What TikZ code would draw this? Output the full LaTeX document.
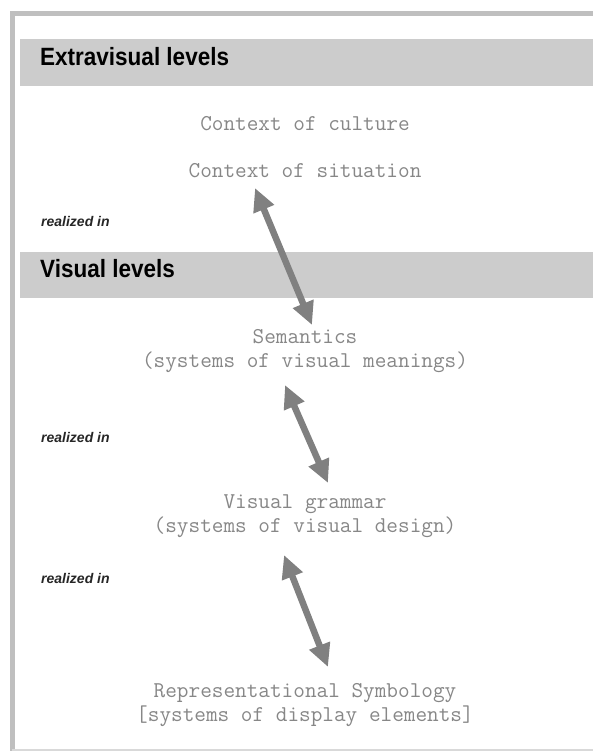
\documentclass[tikz,border=0pt]{standalone}
\usepackage{fontspec}
\usetikzlibrary{arrows.meta}
\newfontfamily\headfont[FakeStretch=0.9]{Liberation Sans}
\newfontfamily\notefont{Liberation Sans}
\definecolor{bandgray}{gray}{0.8}
\definecolor{framegray}{gray}{0.75}
\definecolor{textgray}{gray}{0.53}
\definecolor{arrowgray}{gray}{0.5}

\begin{document}
\begin{tikzpicture}[x=1pt,y=-1pt,
        level/.style={anchor=west,inner sep=0pt,font=\headfont\bfseries\fontsize{25}{26}\selectfont},
        stratum/.style={inner sep=0pt,align=center,text=textgray,font=\ttfamily\fontsize{22.6}{24}\selectfont},
        realize/.style={anchor=west,inner sep=0pt,text=black!85,font=\notefont\bfseries\itshape\fontsize{14}{15}\selectfont},
        dbl/.style={{Triangle[width=21pt,length=23pt]}-{Triangle[width=21pt,length=23pt]},line width=6.5pt,draw=arrowgray,fill=arrowgray}]
            \useasboundingbox (0,0) rectangle (593,751);
            \draw[framegray,line width=5pt] (600,13.5) -- (12,13.5) -- (12,751);
            \draw[framegray!60,line width=2.5pt] (12,750) -- (600,750);
            \fill[bandgray] (20,39) rectangle (600,86);
            \fill[bandgray] (20,252) rectangle (600,298);
            \node[level] (extra) at (40,57) {Extravisual levels};
            \node[level] (visual) at (40,269) {Visual levels};
            \node[stratum] (culture) at (305,124) {Context of culture};
            \node[stratum] (situation) at (305,171) {Context of situation};
            \node[stratum] (semantics) at (305,351.5) {Semantics\\(systems of visual meanings)};
            \node[stratum] (grammar) at (305,516.5) {Visual grammar\\(systems of visual design)};
            \node[stratum] (symbology) at (305,705) {Representational Symbology\\{}[systems of display elements]};
            \node[realize] (r1) at (41,221) {realized in};
            \node[realize] (r2) at (41,437) {realized in};
            \node[realize] (r3) at (41,578) {realized in};
            \draw[dbl] ([shift={(-50,17)}]situation.center) -- ([shift={(7,-26.5)}]semantics.center);
            \draw[dbl] ([shift={(-20,33.5)}]semantics.center) -- ([shift={(23,-33.5)}]grammar.center);
            \draw[dbl] ([shift={(-21,38.5)}]grammar.center) -- ([shift={(23,-38)}]symbology.center);
\end{tikzpicture}
\end{document}
